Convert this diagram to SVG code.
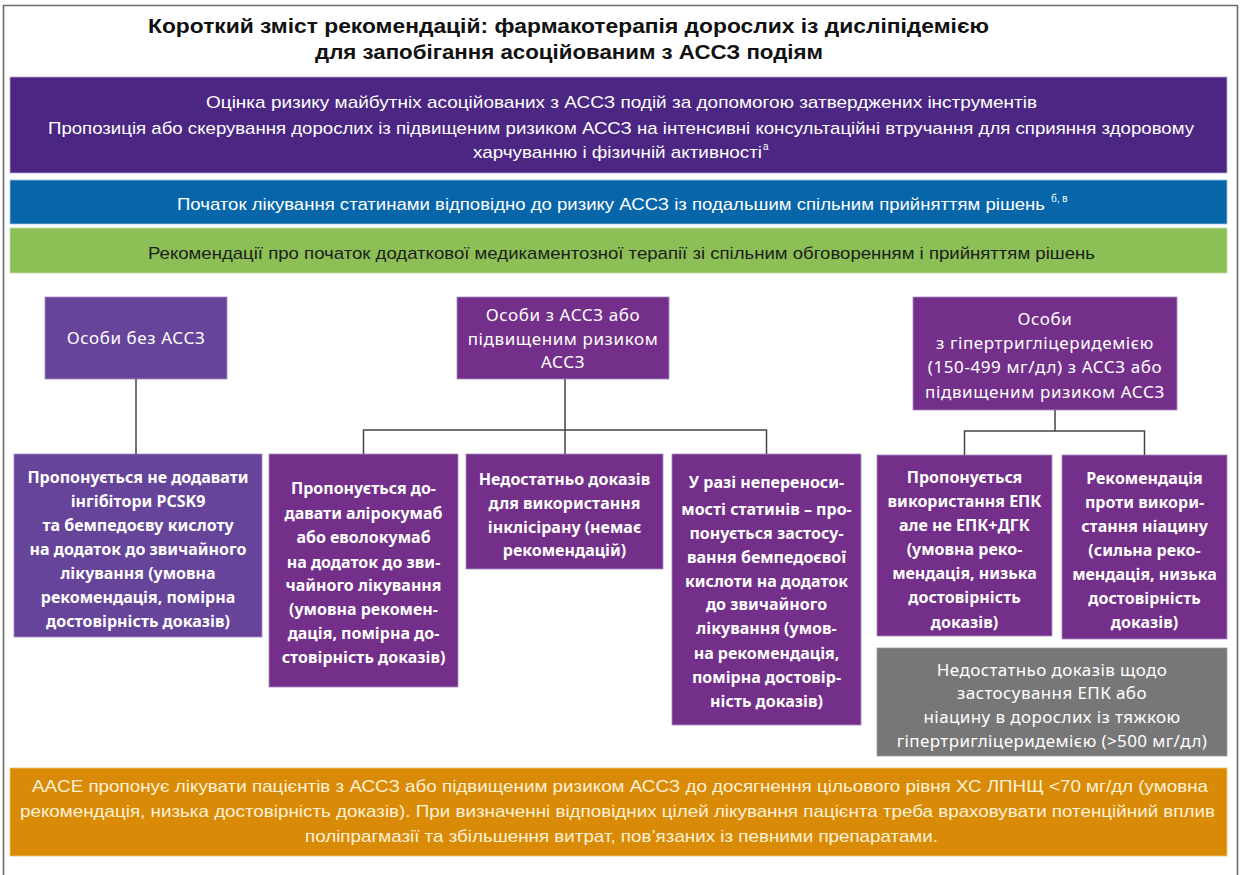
<svg xmlns="http://www.w3.org/2000/svg" width="1244" height="875" viewBox="0 0 1244 875">
<style>
.title{font-family:"Liberation Sans",Arial,sans-serif;font-weight:bold;font-size:20px;fill:#111}
.band{font-family:"Liberation Sans",Arial,sans-serif;font-size:17px;fill:#fff}
.sup{font-family:"Liberation Sans",Arial,sans-serif;font-size:10px;fill:#fff}
.dark{fill:#1d1d1b}
.cream{fill:#fdf1d8}
.nt{font-family:"Noto Sans","Open Sans",sans-serif;font-size:17px;letter-spacing:0.6px;fill:#fff;text-anchor:middle}
.ng{font-family:"Noto Sans","Open Sans",sans-serif;font-size:17px;letter-spacing:0.4px;fill:#fff;text-anchor:middle}
.nb{font-family:"Noto Sans","Open Sans",sans-serif;font-size:16px;font-weight:bold;fill:#fff;text-anchor:middle}
.pu{fill:#732f89;stroke:#a98bc0;stroke-width:0.8}
.pb{fill:#66449a;stroke:#a98bc0;stroke-width:0.8}
.gr{fill:#777777;stroke:#999;stroke-width:0.8}
.conn{fill:none;stroke:#444;stroke-width:1.5}
</style>
<rect width="1244" height="875" fill="#fff"/>
<path d="M3.5,880 V5.5 H1237.5 V880" fill="none" stroke="#6b6b6b" stroke-width="1.6"/>

<g id="title">
<text class="title" x="148" y="33" textLength="841" lengthAdjust="spacingAndGlyphs">Короткий зміст рекомендацій: фармакотерапія дорослих із дисліпідемією</text>
<text class="title" x="315" y="59" textLength="508" lengthAdjust="spacingAndGlyphs">для запобігання асоційованим з АССЗ подіям</text>
</g>

<g id="band-risk">
<rect x="10" y="77" width="1217" height="96" fill="#4b2683" stroke="#b9a6d6" stroke-width="0.8"/>
<text class="band" x="206" y="108" textLength="831" lengthAdjust="spacingAndGlyphs">Оцінка ризику майбутніх асоційованих з АССЗ подій за допомогою затверджених інструментів</text>
<text class="band" x="48" y="134" textLength="1146" lengthAdjust="spacingAndGlyphs">Пропозиція або скерування дорослих із підвищеним ризиком АССЗ на інтенсивні консультаційні втручання для сприяння здоровому</text>
<text class="band" x="473" y="158" textLength="289" lengthAdjust="spacingAndGlyphs">харчуванню і фізичній активності</text>
<text class="sup" x="763" y="150">а</text>
</g>

<g id="band-statin">
<rect x="10" y="180" width="1217" height="44" fill="#0766a9" stroke="#9cc3e2" stroke-width="0.8"/>
<text class="band" x="177" y="210" textLength="868" lengthAdjust="spacingAndGlyphs">Початок лікування статинами відповідно до ризику АССЗ із подальшим спільним прийняттям рішень</text>
<text class="sup" x="1051" y="202">б, в</text>
</g>

<g id="band-add">
<rect x="10" y="228" width="1217" height="45" fill="#8cbf55" stroke="#c2dea3" stroke-width="0.8"/>
<text class="band dark" x="148" y="259" textLength="947" lengthAdjust="spacingAndGlyphs">Рекомендації про початок додаткової медикаментозної терапії зі спільним обговоренням і прийняттям рішень</text>
</g>

<g id="node-no-ascvd">
<rect class="pb" x="45" y="297" width="182" height="82"/>
<text class="nt" x="136" y="344">Особи без АССЗ</text>
</g>

<g id="node-ascvd">
<rect class="pu" x="457" y="297" width="212" height="82"/>
<text class="nt" x="563" y="321">Особи з АССЗ або</text>
<text class="nt" x="563" y="345">підвищеним ризиком</text>
<text class="nt" x="563" y="368">АССЗ</text>
</g>

<g id="node-htg">
<rect class="pu" x="913" y="297" width="264" height="113"/>
<text class="nt" x="1045" y="325">Особи</text>
<text class="nt" x="1045" y="349">з гіпертригліцеридемією</text>
<text class="nt" x="1045" y="373">(150-499 мг/дл) з АССЗ або</text>
<text class="nt" x="1045" y="398">підвищеним ризиком АССЗ</text>
</g>

<g id="node-pcsk9-no">
<rect class="pb" x="14" y="454" width="248" height="183"/>
<text class="nb" x="138" y="483">Пропонується не додавати</text>
<text class="nb" x="138" y="507">інгібітори PCSK9</text>
<text class="nb" x="138" y="531">та бемпедоєву кислоту</text>
<text class="nb" x="138" y="555">на додаток до звичайного</text>
<text class="nb" x="138" y="579">лікування (умовна</text>
<text class="nb" x="138" y="603">рекомендація, помірна</text>
<text class="nb" x="138" y="627">достовірність доказів)</text>
</g>

<g id="node-pcsk9-yes">
<rect class="pu" x="269" y="454" width="189" height="233"/>
<text class="nb" x="363.5" y="494">Пропонується до-</text>
<text class="nb" x="363.5" y="519">давати алірокумаб</text>
<text class="nb" x="363.5" y="543">або еволокумаб</text>
<text class="nb" x="363.5" y="568">на додаток до зви-</text>
<text class="nb" x="363.5" y="591">чайного лікування</text>
<text class="nb" x="363.5" y="615">(умовна рекомен-</text>
<text class="nb" x="363.5" y="639">дація, помірна до-</text>
<text class="nb" x="363.5" y="663">стовірність доказів)</text>
</g>

<g id="node-inclisiran">
<rect class="pu" x="466" y="454" width="197" height="115"/>
<text class="nb" x="564.5" y="485">Недостатньо доказів</text>
<text class="nb" x="564.5" y="509">для використання</text>
<text class="nb" x="564.5" y="533">інклісірану (немає</text>
<text class="nb" x="564.5" y="556">рекомендацій)</text>
</g>

<g id="node-bempedoic">
<rect class="pu" x="672" y="454" width="189" height="271"/>
<text class="nb" x="766.5" y="488">У разі непереноси-</text>
<text class="nb" x="766.5" y="515">мості статинів – про-</text>
<text class="nb" x="766.5" y="539">понується застосу-</text>
<text class="nb" x="766.5" y="563">вання бемпедоєвої</text>
<text class="nb" x="766.5" y="587">кислоти на додаток</text>
<text class="nb" x="766.5" y="610">до звичайного</text>
<text class="nb" x="766.5" y="634">лікування (умов-</text>
<text class="nb" x="766.5" y="659">на рекомендація,</text>
<text class="nb" x="766.5" y="683">помірна достовір-</text>
<text class="nb" x="766.5" y="707">ність доказів)</text>
</g>

<g id="node-epa">
<rect class="pu" x="877" y="455" width="175" height="181"/>
<text class="nb" x="964.5" y="483">Пропонується</text>
<text class="nb" x="964.5" y="507">використання ЕПК</text>
<text class="nb" x="964.5" y="531">але не ЕПК+ДГК</text>
<text class="nb" x="964.5" y="555">(умовна реко-</text>
<text class="nb" x="964.5" y="579">мендація, низька</text>
<text class="nb" x="964.5" y="603">достовірність</text>
<text class="nb" x="964.5" y="628">доказів)</text>
</g>

<g id="node-niacin">
<rect class="pu" x="1062" y="455" width="165" height="184"/>
<text class="nb" x="1144.5" y="484">Рекомендація</text>
<text class="nb" x="1144.5" y="508">проти викори-</text>
<text class="nb" x="1144.5" y="532">стання ніацину</text>
<text class="nb" x="1144.5" y="556">(сильна реко-</text>
<text class="nb" x="1144.5" y="580">мендація, низька</text>
<text class="nb" x="1144.5" y="604">достовірність</text>
<text class="nb" x="1144.5" y="628">доказів)</text>
</g>

<g id="node-severe-htg">
<rect class="gr" x="877" y="648" width="350" height="108"/>
<text class="ng" x="1052" y="676">Недостатньо доказів щодо</text>
<text class="ng" x="1052" y="699">застосування ЕПК або</text>
<text class="ng" x="1052" y="723">ніацину в дорослих із тяжкою</text>
<text class="ng" x="1052" y="747">гіпертригліцеридемією (&gt;500 мг/дл)</text>
</g>

<g id="band-aace">
<rect x="10" y="768" width="1217" height="88" fill="#d98b07" stroke="#ecc47a" stroke-width="0.8"/>
<text class="band cream" x="32" y="792" textLength="1176" lengthAdjust="spacingAndGlyphs">AACE пропонує лікувати пацієнтів з АССЗ або підвищеним ризиком АССЗ до досягнення цільового рівня ХС ЛПНЩ &lt;70 мг/дл (умовна</text>
<text class="band cream" x="20" y="817" textLength="1195" lengthAdjust="spacingAndGlyphs">рекомендація, низька достовірність доказів). При визначенні відповідних цілей лікування пацієнта треба враховувати потенційний вплив</text>
<text class="band cream" x="305" y="842" textLength="633" lengthAdjust="spacingAndGlyphs">поліпрагмазії та збільшення витрат, пов’язаних із певними препаратами.</text>
</g>

<g id="connectors">
<path class="conn" d="M136,379 V454"/>
<path class="conn" d="M565,379 V454 M363.5,454 V430 H766.5 V454"/>
<path class="conn" d="M1055,410 V431 M964.5,455 V431 H1144.5 V455"/>
</g>
</svg>
